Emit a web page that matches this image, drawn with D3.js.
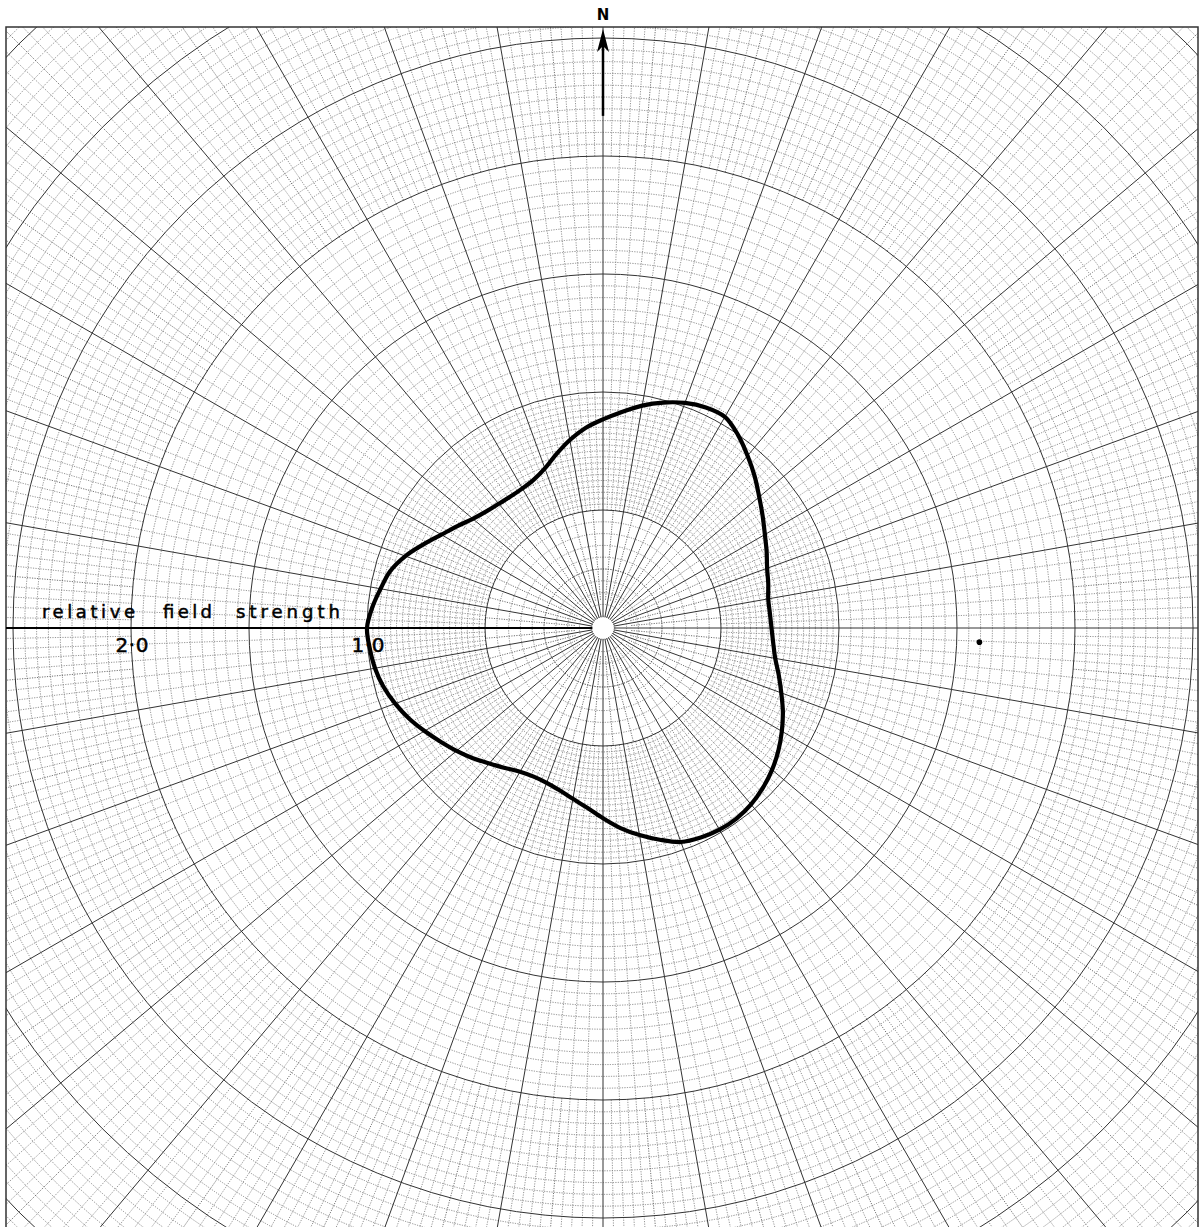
<!DOCTYPE html>
<html>
<head>
<meta charset="utf-8">
<script src="https://cdn.jsdelivr.net/npm/d3@7"></script>
<style>
  body { margin: 0; background: #fff; }
  svg { display: block; }
</style>
</head>
<body>
<svg></svg>
<script>
// measured pattern: bearing (deg, clockwise from N) and relative field strength
var bearings = d3.range(0, 360, 5);
var fieldStrength = [0.884, 0.919, 0.957, 0.989, 1.015, 1.031, 1.033, 0.998, 0.953, 0.909, 0.864, 0.826,
                     0.792, 0.765, 0.740, 0.725, 0.711, 0.710, 0.714, 0.724, 0.741, 0.771, 0.804, 0.841,
                     0.875, 0.907, 0.935, 0.958, 0.976, 0.986, 0.987, 0.980, 0.965, 0.929, 0.891, 0.851,
                     0.806, 0.765, 0.735, 0.712, 0.698, 0.695, 0.703, 0.724, 0.749, 0.780, 0.810, 0.840,
                     0.873, 0.907, 0.937, 0.963, 0.981, 0.992, 1.000, 0.982, 0.957, 0.933, 0.891, 0.839,
                     0.791, 0.753, 0.720, 0.699, 0.687, 0.681, 0.683, 0.694, 0.720, 0.763, 0.809, 0.851];
var tickValues = [2, 1];
var tickLabels = ["2\u00b70", "1\u00b70"];
var axisWords = ["relative", "field", "strength"];

// basic settings
var svgWidth = 1203, svgHeight = 1227;
var cx = 603, cy = 628;
var frame = {left: 6, top: 27, right: 1198, bottom: 1250};

var rScale = d3.scaleLinear().domain([0, 1]).range([0, 236]);
var rMax = 3.65;

var svg = d3.select('svg')
  .attr('width', svgWidth)
  .attr('height', svgHeight);

svg.append('clipPath').attr('id', 'paper')
  .append('rect')
  .attr('x', frame.left).attr('y', frame.top)
  .attr('width', frame.right - frame.left)
  .attr('height', frame.bottom - frame.top);

var grid = svg.append('g')
  .attr('clip-path', 'url(#paper)')
  .append('g')
  .attr('transform', 'translate(' + [cx, cy] + ')');

function pt(r, deg) {
  var a = deg * Math.PI / 180;
  return [rScale(r) * Math.sin(a), -rScale(r) * Math.cos(a)];
}

// fine circles
var fineRings = d3.range(0.05, 0.5, 0.05)
  .concat(d3.range(0.525, 1.0, 0.025))
  .concat(d3.range(1.05, rMax, 0.05))
  .filter(function(v) { return Math.abs(v * 2 - Math.round(v * 2)) > 1e-6; });

grid.selectAll('circle.fine')
  .data(fineRings)
  .enter().append('circle')
  .attr('class', 'fine')
  .attr('r', function(d) { return rScale(d); })
  .attr('fill', 'none')
  .attr('stroke', '#6e6e6e')
  .attr('stroke-width', 0.8)
  .attr('stroke-dasharray', '1.2,1.3');

// fine radial lines, denser further out
var radials = [];
d3.range(0, 360, 5).forEach(function(a) { if (a % 10) radials.push({a: a, r0: 0.12, r1: 0.5}); });
d3.range(0, 360, 2).forEach(function(a) { if (a % 10) radials.push({a: a, r0: 0.5, r1: 2.0}); });
d3.range(0, 360, 1).forEach(function(a) { if (a % 10) radials.push({a: a, r0: 2.0, r1: rMax}); });

grid.selectAll('line.fine')
  .data(radials)
  .enter().append('line')
  .attr('class', 'fine')
  .attr('x1', function(d) { return pt(d.r0, d.a)[0]; })
  .attr('y1', function(d) { return pt(d.r0, d.a)[1]; })
  .attr('x2', function(d) { return pt(d.r1, d.a)[0]; })
  .attr('y2', function(d) { return pt(d.r1, d.a)[1]; })
  .attr('stroke', function(d) { return d.a % 5 ? '#7a7a7a' : '#4c4c4c'; })
  .attr('stroke-width', 0.8)
  .attr('stroke-dasharray', '1.2,1.3');

// major circles every 0.5
grid.selectAll('circle.major')
  .data(d3.range(0.5, rMax, 0.5))
  .enter().append('circle')
  .attr('class', 'major')
  .attr('r', function(d) { return rScale(d); })
  .attr('fill', 'none')
  .attr('stroke', '#333')
  .attr('stroke-width', 1);

grid.append('circle')
  .attr('r', rScale(0.25))
  .attr('fill', 'none')
  .attr('stroke', '#555')
  .attr('stroke-width', 0.8)
  .attr('stroke-dasharray', '1.2,1.3');

// major radial lines every 10 degrees
grid.selectAll('line.major')
  .data(d3.range(0, 360, 10))
  .enter().append('line')
  .attr('class', 'major')
  .attr('x1', function(d) { return pt(0.045, d)[0]; })
  .attr('y1', function(d) { return pt(0.045, d)[1]; })
  .attr('x2', function(d) { return pt(rMax, d)[0]; })
  .attr('y2', function(d) { return pt(rMax, d)[1]; })
  .attr('stroke', '#333')
  .attr('stroke-width', 1);

// clear hole in the middle
grid.append('circle')
  .attr('r', rScale(0.045))
  .attr('fill', '#fff');

// paper border
svg.append('rect')
  .attr('x', frame.left).attr('y', frame.top)
  .attr('width', frame.right - frame.left)
  .attr('height', frame.bottom - frame.top)
  .attr('fill', 'none')
  .attr('stroke', '#333')
  .attr('stroke-width', 1.5);

// field-strength axis (west)
var axisScale = d3.scaleLinear().domain([0, 1]).range([cx, cx - rScale(1)]);

svg.append('line')
  .attr('x1', frame.left).attr('x2', cx - rScale(0.045))
  .attr('y1', cy).attr('y2', cy)
  .attr('stroke', '#000')
  .attr('stroke-width', 2.2);

svg.selectAll('text.tick')
  .data(tickValues)
  .enter().append('text')
  .attr('class', 'tick')
  .attr('x', function(d) { return axisScale(d) + 1; })
  .attr('y', cy + 24)
  .attr('text-anchor', 'middle')
  .attr('font-family', 'DejaVu Sans')
  .attr('font-size', 20)
  .attr('textLength', 33)
  .attr('fill', '#000')
  .attr('stroke', '#000')
  .attr('stroke-width', 0.5)
  .text(function(d, i) { return tickLabels[i]; });

var wordX = [42, 163, 236], wordW = [93, 49, 104];
svg.selectAll('text.title')
  .data(axisWords)
  .enter().append('text')
  .attr('class', 'title')
  .attr('x', function(d, i) { return wordX[i]; })
  .attr('y', cy - 10)
  .attr('font-family', 'DejaVu Sans')
  .attr('font-size', 18)
  .attr('textLength', function(d, i) { return wordW[i]; })
  .attr('lengthAdjust', 'spacing')
  .attr('fill', '#000')
  .attr('stroke', '#000')
  .attr('stroke-width', 0.5)
  .text(function(d) { return d; });

// north arrow
svg.append('line')
  .attr('x1', cx).attr('x2', cx)
  .attr('y1', cy - rScale(2.17)).attr('y2', frame.top + 10)
  .attr('stroke', '#000')
  .attr('stroke-width', 2.5);

svg.append('path')
  .attr('d', 'M' + cx + ',' + (frame.top + 2) + 'L' + (cx - 6) + ',' + (frame.top + 25) +
             'L' + cx + ',' + (frame.top + 19) + 'L' + (cx + 6) + ',' + (frame.top + 25) + 'Z')
  .attr('fill', '#000');

svg.append('text')
  .attr('x', cx).attr('y', frame.top - 7)
  .attr('text-anchor', 'middle')
  .attr('font-family', 'DejaVu Sans')
  .attr('font-weight', 'bold')
  .attr('font-size', 15)
  .text('N');

// stray mark on the sheet
svg.append('circle')
  .attr('cx', cx + rScale(1.595)).attr('cy', cy + rScale(0.06))
  .attr('r', 2.8)
  .attr('fill', '#000');

// the measured pattern
var pattern = bearings.map(function(b, i) { return [b * Math.PI / 180, rScale(fieldStrength[i])]; });

var line = d3.lineRadial()
  .angle(function(d) { return d[0]; })
  .radius(function(d) { return d[1]; })
  .curve(d3.curveCatmullRomClosed);

svg.append('path')
  .datum(pattern)
  .attr('transform', 'translate(' + [cx, cy] + ')')
  .attr('d', line)
  .attr('fill', 'none')
  .attr('stroke', '#000')
  .attr('stroke-width', 4.2)
  .attr('stroke-linejoin', 'round');
</script>
</body>
</html>
